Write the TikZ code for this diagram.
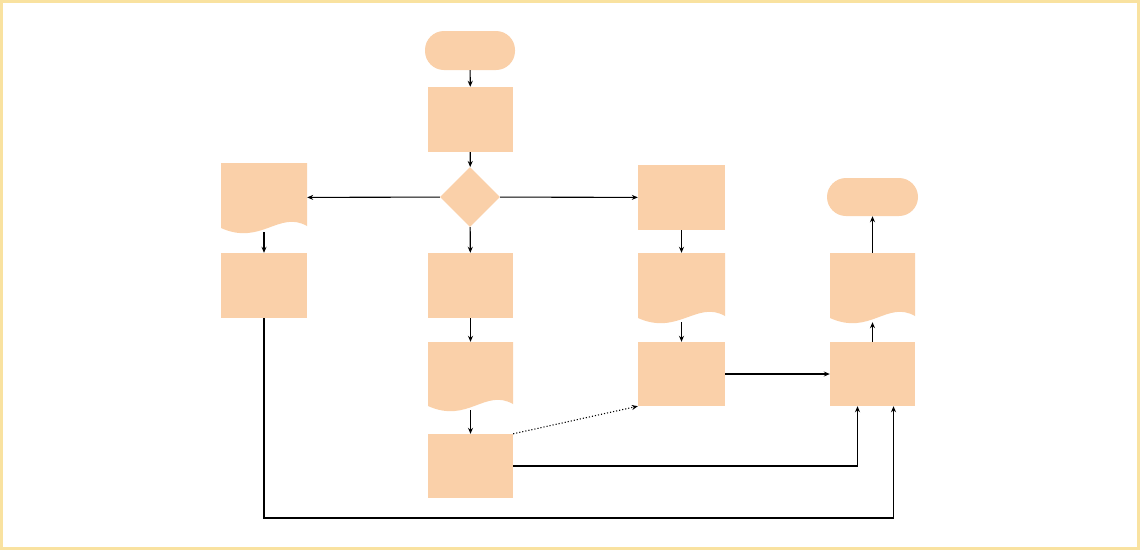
\documentclass[tikz,border=0pt]{standalone}
\usetikzlibrary{arrows.meta,shapes.geometric}
\definecolor{sh}{HTML}{FAD0A9}
\definecolor{fr}{HTML}{F9E2A0}
\tikzset{
  x=1pt,y=-1pt,
  box/.style={fill=sh,draw=none,inner sep=0,minimum width=#1},
  term/.style={fill=sh,draw=none,rounded corners=19pt,inner sep=0},
  ar/.style={-{Stealth[length=6pt,width=5pt]},line width=1.1pt},
  phantom/.style={inner sep=0,draw=none}
}
\newcommand{\docshape}[5]{% name, x0, y0, x1, y1
  \fill[sh] (#2,#3) -- (#4,#3) -- (#4,#5-6) .. controls (#4-28,#5-22) and (#2+40,#5+14) .. (#2,#5-4) -- cycle;
  \node[phantom,minimum width=#4-#2,minimum height=#5-#3] (#1) at ({(#2+#4)/2},{(#3+#5)/2}) {};}
\begin{document}
\begin{tikzpicture}
\useasboundingbox (0,0) rectangle (1140,550);
\fill[white] (0,0) rectangle (1140,550);
\draw[fr,line width=3pt] (1.5,1.5) rectangle (1138.5,548.5);
% terminals
\node[term,minimum width=90pt,minimum height=39pt] (st) at (470,50.5) {};
\node[term,minimum width=91pt,minimum height=38pt] (en) at (872.5,197) {};
% rectangles
\node[box=85pt,minimum height=65pt] (r1) at (470.5,119.5) {};
\node[diamond,fill=sh,inner sep=0,minimum width=60pt,minimum height=60pt] (d) at (470,197) {};
\node[box=87pt,minimum height=65pt] (rt) at (681.5,197.5) {};
\node[box=86pt,minimum height=65pt] (lr) at (264,285.5) {};
\node[box=85pt,minimum height=65pt] (cr) at (470.5,285.5) {};
\node[box=85pt,minimum height=64pt] (cb) at (470.5,466) {};
\node[box=87pt,minimum height=64pt] (rr) at (681.5,374) {};
\node[box=85pt,minimum height=64pt] (fr) at (872.5,374) {};
% documents
\docshape{ld}{221}{163}{307}{232}
\docshape{rd}{638}{253}{725}{322}
\docshape{cd}{428}{342}{513}{410}
\docshape{fd}{830}{253}{915}{322}
% connectors
\draw[ar] (st) -- (r1);
\draw[ar] (r1) -- (d);
\draw[ar] (d) -- (ld);
\draw[ar] (d) -- (rt);
\draw[ar] (d) -- (cr);
\draw[ar] (ld.south -| lr) -- (lr);
\draw[ar] (rt) -- (rd);
\draw[ar] (rd) -- (rr);
\draw[ar] (cr) -- (cd);
\draw[ar] (cd) -- (cb);
\draw[ar,dotted] (cb.north east) -- (rr.south west);
\draw[ar] (cb.east) -| ([xshift=-15pt]fr.south);
\draw[ar] (lr.south) |- (265,518) -| ([xshift=21pt]fr.south);
\draw[ar] (rr) -- (fr);
\draw[ar] (fr) -- (fd);
\draw[ar] (fd) -- (en);
\end{tikzpicture}
\end{document}
